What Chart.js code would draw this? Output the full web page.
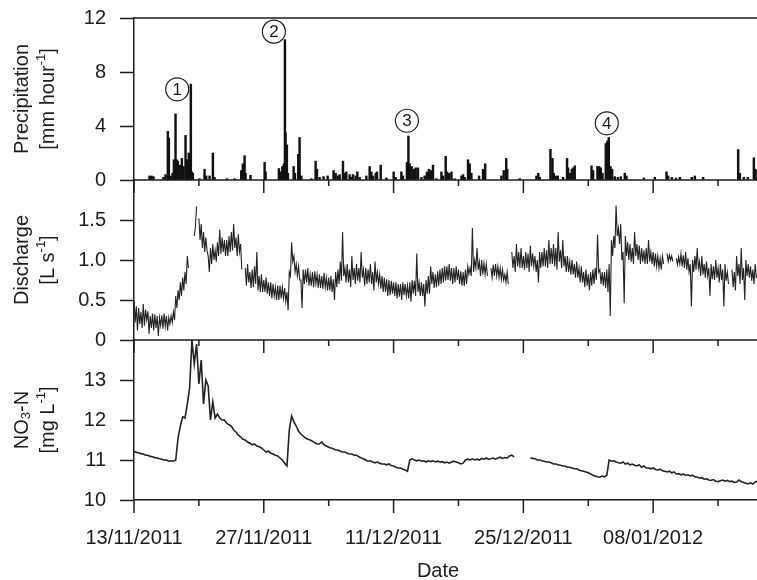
<!DOCTYPE html>
<html><head><meta charset="utf-8">
<script src="https://cdn.jsdelivr.net/npm/chart.js@4.4.1/dist/chart.umd.min.js"></script>
<style>html,body{margin:0;padding:0;background:#fff;}#wrap{width:757px;height:580px;}</style>
</head><body><div id="wrap"><canvas id="c" width="757" height="580"></canvas></div>
<script>
// ---- data (x in days since 13/11/2011) ----
const START_DATE = Date.UTC(2011, 10, 13);
const X_MAX = 67.2;
const DISCHARGE_STEP = 0.125; // days between discharge samples
const NITRATE_STEP = 0.25;    // days between nitrate samples

const precipDays = [1.67,1.89,2.10,3.18,3.40,3.65,3.76,3.94,4.16,4.30,
4.48,4.59,4.73,4.99,5.16,5.34,5.56,5.70,5.91,6.13,
6.24,6.35,7.07,7.61,7.79,8.15,8.51,8.69,10.02,10.85,
11.57,11.74,11.93,12.03,12.57,14.09,14.19,15.63,15.81,16.00,
16.17,16.28,16.35,16.49,16.60,17.22,17.36,17.72,17.86,18.05,
19.13,19.59,19.73,20.02,20.45,20.89,21.53,21.75,22.00,22.18,
22.54,22.72,22.90,23.26,23.44,23.62,23.91,24.09,24.34,25.06,
25.42,25.60,25.77,26.07,26.21,26.61,27.22,28.01,28.22,28.84,
29.01,29.44,29.60,29.74,29.95,30.17,30.38,30.63,31.00,31.35,
31.60,31.82,32.03,32.25,32.62,33.16,33.33,33.62,33.76,33.98,
34.24,34.59,35.32,35.49,35.67,36.03,36.21,36.39,37.22,37.65,
37.88,39.63,39.88,40.15,40.26,41.61,43.41,43.61,43.77,44.92,
45.14,45.28,45.49,45.71,46.28,46.71,46.82,47.00,47.22,47.36,
47.54,49.35,49.52,49.99,50.17,50.35,50.53,50.89,51.07,51.21,
51.40,51.57,51.86,52.19,52.51,52.94,53.12,54.99,56.18,57.44,
57.61,58.01,58.45,58.88,60.17,60.50,61.39,65.17,65.35,65.78,
66.21,66.86,67.05];
const precipValues = [0.3,0.3,0.25,0.2,0.4,3.6,3.1,0.3,0.5,1.5,
4.9,1.5,1.4,1.1,1.6,1.0,3.3,1.5,2.0,7.1,
0.6,0.5,0.1,0.8,0.3,0.3,2.0,0.2,0.1,0.1,
0.7,1.2,1.8,0.5,0.35,1.3,0.6,0.85,0.6,1.0,
1.2,10.4,3.5,2.6,0.5,1.0,0.5,1.9,3.15,0.3,
0.1,1.4,0.8,0.2,0.25,0.3,0.7,0.5,0.3,0.4,
1.4,0.5,0.6,0.4,0.2,0.4,0.3,0.6,0.2,0.3,
1.0,0.6,0.3,0.5,0.6,1.1,0.15,0.6,0.2,0.6,
0.3,1.3,3.26,1.2,1.0,0.8,0.9,0.9,0.2,0.3,
0.6,0.8,0.7,1.1,0.1,0.6,0.3,1.75,0.6,0.5,
0.6,0.1,0.3,0.4,0.2,1.5,1.2,0.5,0.3,0.8,
1.2,0.3,0.7,1.6,0.8,0.1,0.3,0.5,0.2,2.27,
1.6,0.5,0.3,0.3,0.2,1.6,0.9,0.5,0.8,0.9,
1.05,1.05,0.7,1.0,1.0,0.9,0.5,2.7,2.9,3.15,
1.0,0.8,0.25,0.2,0.25,0.5,0.3,0.15,0.2,0.6,
0.3,0.2,0.15,0.2,0.2,0.3,0.2,2.25,0.5,0.2,
0.2,1.65,0.8];

// discharge, 8 samples per day (row = one day)
const dischargeValues = [
0.50,0.22,0.42,0.12,0.40,0.20,0.35,0.15, // d0
0.45,0.18,0.38,0.25,0.36,0.08,0.30,0.15, // d1
0.33,0.12,0.32,0.15,0.30,0.05,0.28,0.18, // d2
0.31,0.14,0.33,0.17,0.30,0.12,0.28,0.20, // d3
0.30,0.22,0.35,0.25,0.55,0.40,0.62,0.50, // d4
0.72,0.55,0.78,0.62,0.85,0.70,1.05,0.90, // d5
null,null,null,null,1.30,1.42,1.67,null, // d6
1.52,1.25,1.45,1.15,1.35,1.10,1.28,1.12, // d7
1.05,0.85,1.15,0.95,1.20,1.00,1.12,0.98, // d8
1.22,1.05,1.38,1.08,1.28,1.10,1.25,1.05, // d9
1.25,1.05,1.30,1.10,1.35,1.12,1.45,1.15, // d10
1.28,1.05,1.32,1.10,1.20,0.88,null,null, // d11
0.90,0.68,0.95,0.72,0.85,0.65,0.88,0.66, // d12
0.92,0.70,1.10,0.62,0.80,0.60,0.82,0.60, // d13
0.75,0.60,0.78,0.58,0.72,0.55,0.72,0.52, // d14
0.70,0.55,0.66,0.50,0.68,0.50,0.68,0.52, // d15
0.66,0.52,0.65,0.48,0.60,0.37,0.85,0.80, // d16
1.22,0.98,1.05,0.85,0.95,0.80,0.92,0.75, // d17
0.75,0.40,0.88,0.70,0.88,0.72,0.90,0.68, // d18
0.82,0.68,0.85,0.66,0.86,0.70,0.82,0.65, // d19
0.82,0.65,0.80,0.64,0.84,0.66,0.78,0.62, // d20
0.78,0.62,0.80,0.60,0.76,0.50,0.85,0.66, // d21
0.88,0.70,0.98,0.74,1.35,0.80,0.90,0.72, // d22
0.95,0.72,0.88,0.66,1.05,0.75,0.90,0.70, // d23
0.95,0.74,0.90,0.72,1.10,0.78,0.88,0.68, // d24
0.90,0.70,0.88,0.72,0.95,0.70,0.85,0.62, // d25
0.98,0.72,0.85,0.70,0.82,0.64,0.80,0.60, // d26
0.78,0.60,0.76,0.55,0.75,0.56,0.74,0.58, // d27
0.72,0.55,0.72,0.52,0.70,0.54,0.70,0.50, // d28
0.72,0.56,0.70,0.55,0.68,0.52,0.72,0.48, // d29
0.75,0.58,0.74,0.55,1.08,0.60,0.72,0.55, // d30
0.72,0.55,0.70,0.42,0.75,0.58,0.80,0.58, // d31
0.92,0.70,0.85,0.65,0.82,0.66,0.86,0.68, // d32
0.88,0.70,0.90,0.72,0.92,0.74,0.92,0.75, // d33
0.95,0.74,0.90,0.70,0.90,0.72,0.92,0.75, // d34
0.88,0.70,0.86,0.68,0.85,0.68,0.88,0.70, // d35
0.92,0.82,0.90,0.80,1.40,0.85,1.00,0.90, // d36
1.15,0.88,0.98,0.80,1.00,0.82,0.96,0.82, // d37
0.95,0.80,null,null,0.90,0.78,0.94,0.80, // d38
0.95,0.80,0.92,0.78,0.90,0.76,0.88,0.75, // d39
0.82,0.72,0.85,0.70,null,null,1.10,0.90, // d40
1.05,0.85,1.20,0.92,1.10,0.90,1.15,0.90, // d41
1.05,0.88,1.10,0.90,1.08,0.85,1.18,0.92, // d42
1.08,0.92,1.05,0.85,1.00,0.72,1.10,0.90, // d43
1.10,0.92,1.15,0.92,1.12,0.90,1.25,0.95, // d44
1.15,0.95,1.20,0.92,1.15,0.88,1.35,0.98, // d45
1.12,0.90,1.25,0.92,1.05,0.85,1.05,0.85, // d46
0.98,0.82,1.00,0.82,0.95,0.78,0.98,0.78, // d47
0.90,0.72,0.92,0.72,0.85,0.66,0.88,0.68, // d48
0.82,0.62,0.85,0.68,0.88,0.70,0.90,0.75, // d49
1.32,0.85,0.88,0.70,0.85,0.68,0.85,0.65, // d50
0.88,0.60,0.95,0.30,1.25,1.05,1.30,1.15, // d51
1.68,1.30,1.40,1.20,1.45,1.00,1.10,0.46, // d52
1.30,1.05,1.22,1.00,1.20,0.98,1.15,0.95, // d53
1.35,1.05,1.20,1.00,1.18,0.95,1.15,0.98, // d54
1.12,0.95,1.15,0.95,1.25,0.98,1.10,0.95, // d55
1.10,0.92,1.08,0.92,1.05,0.90,1.02,0.88, // d56
1.05,0.95,null,null,1.08,0.98,1.06,1.00, // d57
1.05,0.98,null,null,1.02,0.94,1.04,0.95, // d58
1.08,0.92,1.06,0.90,1.10,0.88,1.02,0.85, // d59
0.95,0.42,1.00,0.85,1.05,0.88,1.15,0.90, // d60
0.98,0.80,1.05,0.82,0.95,0.78,0.98,0.80, // d61
0.90,0.55,0.95,0.76,0.92,0.75,1.00,0.78, // d62
0.90,0.72,0.95,0.75,0.88,0.42,0.95,0.74, // d63
0.85,0.70,null,null,0.88,0.66,0.85,0.62, // d64
1.05,0.80,0.95,0.70,1.15,0.75,0.90,0.50, // d65
1.00,0.80,0.95,0.78,0.92,0.74,0.88,0.70, // d66
0.95,0.78,0.80                           // d67
];

// nitrate NO3-N, 4 samples per day (row = one day)
const nitrateValues = [
11.22,11.19,11.18,11.16, 11.15,11.12,11.12,11.09, 11.08,11.06,11.05,11.03, 11.02,11.00,11.00,10.97, // d0-3
10.98,10.97,11.00,11.55, 11.85,12.08,12.05,12.40, 12.80,14.00,13.40,13.90, 12.90,13.50,12.40,13.00, // d4-7
12.85,12.00,12.45,12.05, 12.15,12.05,12.00,12.00, 11.92,11.88,11.85,11.75, 11.70,11.62,11.58,11.52, // d8-11
11.50,11.45,11.42,11.38, 11.40,11.35,11.33,11.30, 11.25,11.20,11.22,11.17, 11.15,11.12,11.10,11.05, // d12-15
11.00,10.92,10.85,11.75, 12.10,11.95,11.85,11.72, 11.65,11.60,11.55,11.52, 11.50,11.47,11.43,11.40, // d16-19
11.40,11.45,11.38,11.35, 11.32,11.30,11.28,11.25, 11.25,11.22,11.20,11.20, 11.17,11.15,11.15,11.12, // d20-23
11.12,11.08,11.05,11.03, 11.00,10.97,10.98,10.95, 10.93,10.95,10.92,10.90, 10.90,10.88,10.90,10.86, // d24-27
10.85,10.82,10.80,10.80, 10.77,10.75,10.72,11.00, 11.03,11.00,10.98,11.00, 10.97,10.98,10.95,10.98, // d28-31
10.96,10.98,10.95,10.97, 10.95,10.96,10.93,10.95, 10.92,10.95,10.97,10.95, 10.93,10.90,10.92,11.00, // d32-35
11.02,11.00,11.03,11.00, 11.02,11.00,11.04,11.02, 11.05,11.02,11.03,11.05, 11.02,11.05,11.07,11.04, // d36-39
11.06,11.05,11.10,11.12, 11.08,null,null,null, null,null,null,11.05, 11.04,11.03,11.00,11.00, // d40-43
10.98,10.97,10.95,10.95, 10.93,10.90,10.90,10.88, 10.87,10.85,10.85,10.82, 10.82,10.80,10.78,10.78, // d44-47
10.75,10.73,10.72,10.70, 10.68,10.65,10.62,10.60, 10.58,10.57,10.60,10.58, 10.62,11.00,10.97,10.98, // d48-51
10.95,10.93,10.92,10.95, 10.90,10.92,10.88,10.90, 10.87,10.85,10.88,10.82, 10.85,10.80,10.80,10.78, // d52-55
10.80,10.76,10.75,10.77, 10.73,10.72,10.70,10.72, 10.68,10.70,10.65,10.66, 10.63,10.65,10.62,10.63, // d56-59
10.60,10.62,10.58,10.57, 10.55,10.56,10.52,10.53, 10.50,10.49,10.51,10.47, 10.46,10.48,10.50,10.47, // d60-63
10.49,10.46,10.47,10.44, 10.45,10.50,10.46,10.44, 10.42,10.40,10.43,10.40, 10.45,10.47              // d64-67
];

const majorTickDays = [0, 14, 28, 42, 56];
const minorTickDays = [7, 21, 35, 49, 63];
const precipTicks = [0, 4, 8, 12];
const dischargeTicks = [0, 0.5, 1, 1.5];
const nitrateTicks = [10, 11, 12, 13];
const eventLabels = ['1', '2', '3', '4'];
const eventDays = [4.66, 15.09, 29.44, 51.0];
const eventValues = [6.72, 10.99, 4.39, 4.2];

// ---- rendering ----
const FONT = '"Liberation Sans", Arial, Helvetica, sans-serif';
const INK = '#1c1c1c';

function fmtDate(d) {
  const dt = new Date(START_DATE + Math.round(d * 86400000));
  return String(dt.getUTCDate()).padStart(2, '0') + '/' +
         String(dt.getUTCMonth() + 1).padStart(2, '0') + '/' + dt.getUTCFullYear();
}
const series = (vals, step) => vals.map((v, i) => ({ x: i * step, y: v }));

function yAxis(min, max, ticks, weight, fmt) {
  return {
    type: 'linear', position: 'left', stack: 'panels', stackWeight: weight,
    min: min, max: max,
    afterBuildTicks: s => { s.ticks = ticks.map(v => ({ value: v })); },
    afterFit: s => { s.width = 134; s.paddingTop = 0; s.paddingBottom = 0; },
    ticks: { font: { family: FONT, size: 20 }, color: INK, padding: 14, callback: fmt },
    grid: { display: true, drawOnChartArea: false, drawTicks: true, tickLength: 14, tickColor: INK, tickWidth: 1.5 },
    border: { display: true, color: INK, width: 1.5 }
  };
}

function drawRich(ctx, parts, cx, cy) {
  let total = 0;
  parts.forEach(p => { ctx.font = (p.s || 20) + 'px ' + FONT; p.w = ctx.measureText(p.t).width; total += p.w; });
  let xx = cx - total / 2;
  parts.forEach(p => { ctx.font = (p.s || 20) + 'px ' + FONT; ctx.fillText(p.t, xx, cy + (p.dy || 0)); xx += p.w; });
}

const decor = {
  id: 'decor',
  afterDatasetsDraw(chart) {
    const { ctx, chartArea: a, scales } = chart;
    const x = scales.x, yP = scales.yP, yQ = scales.yQ;
    ctx.save();
    ctx.strokeStyle = INK; ctx.lineWidth = 1.5;
    [yP.top, yP.bottom, yQ.bottom].forEach(y => {
      ctx.beginPath(); ctx.moveTo(a.left, y); ctx.lineTo(a.right, y); ctx.stroke();
    });
    const seg = (px, y, len) => { ctx.beginPath(); ctx.moveTo(px, y); ctx.lineTo(px, y + len); ctx.stroke(); };
    [yP.bottom, yQ.bottom, x.top].forEach(y => {
      majorTickDays.forEach(d => seg(x.getPixelForValue(d), y, 13));
      minorTickDays.forEach(d => seg(x.getPixelForValue(d), y, 6));
    });
    // circled event markers
    ctx.lineWidth = 1.2;
    ctx.textAlign = 'center'; ctx.textBaseline = 'middle';
    ctx.font = '17px ' + FONT;
    eventLabels.forEach((t, i) => {
      const px = x.getPixelForValue(eventDays[i]), py = yP.getPixelForValue(eventValues[i]);
      ctx.fillStyle = '#fff';
      ctx.beginPath(); ctx.arc(px, py, 11.5, 0, Math.PI * 2); ctx.fill(); ctx.stroke();
      ctx.fillStyle = INK; ctx.fillText(t, px, py + 1);
    });
    ctx.restore();
  },
  afterDraw(chart) {
    const { ctx, scales } = chart;
    ctx.save();
    ctx.fillStyle = INK; ctx.textAlign = 'left'; ctx.textBaseline = 'middle';
    const titles = [
      [scales.yP, [{ t: 'Precipitation' }], [{ t: '[mm hour' }, { t: '-1', s: 13, dy: -7 }, { t: ']' }]],
      [scales.yQ, [{ t: 'Discharge' }], [{ t: '[L s' }, { t: '-1', s: 13, dy: -7 }, { t: ']' }]],
      [scales.yN, [{ t: 'NO' }, { t: '3', s: 13, dy: 4 }, { t: '-N' }], [{ t: '[mg L' }, { t: '-1', s: 13, dy: -7 }, { t: ']' }]]
    ];
    titles.forEach(([sc, l1, l2]) => {
      const cy = (sc.top + sc.bottom) / 2;
      ctx.save();
      ctx.translate(0, cy);
      ctx.rotate(-Math.PI / 2);
      drawRich(ctx, l1, 0, 22);
      drawRich(ctx, l2, 0, 48);
      ctx.restore();
    });
    ctx.textAlign = 'center';
    ctx.font = '20px ' + FONT;
    ctx.fillText('Date', 438, 571);
    ctx.restore();
  }
};

new Chart(document.getElementById('c'), {
  type: 'line',
  data: {
    datasets: [
      { type: 'bar', label: 'Precipitation', yAxisID: 'yP', xAxisID: 'x',
        data: precipDays.map((d, i) => ({ x: d, y: precipValues[i] })),
        backgroundColor: '#111', borderWidth: 0, barThickness: 1.8 },
      { type: 'line', label: 'Discharge', yAxisID: 'yQ', xAxisID: 'x',
        data: series(dischargeValues, DISCHARGE_STEP), borderColor: '#222', borderWidth: 1.1,
        pointRadius: 0, tension: 0, spanGaps: false },
      { type: 'line', label: 'NO3-N', yAxisID: 'yN', xAxisID: 'x',
        data: series(nitrateValues, NITRATE_STEP), borderColor: '#222', borderWidth: 1.6,
        pointRadius: 0, tension: 0, spanGaps: false }
    ]
  },
  options: {
    responsive: false, animation: false,
    layout: { padding: { top: 18, right: 0, bottom: 0, left: 0 } },
    plugins: { legend: { display: false }, tooltip: { enabled: false } },
    scales: {
      x: {
        type: 'linear', position: 'bottom', min: 0, max: X_MAX, offset: false,
        afterBuildTicks: s => { s.ticks = majorTickDays.map(v => ({ value: v })); },
        afterFit: s => { s.height = 80; s.paddingLeft = 0; s.paddingRight = 0; },
        ticks: { font: { family: FONT, size: 20 }, color: INK, padding: 26, maxRotation: 0, autoSkip: false,
                 callback: v => fmtDate(v) },
        grid: { display: false, drawTicks: false },
        border: { display: true, color: INK, width: 1.5 }
      },
      // left stacked axes are laid out bottom-up in definition order
      yN: yAxis(10, 14, nitrateTicks, 160, v => String(v)),
      yQ: yAxis(0, 2, dischargeTicks, 160, v => (v === 0 ? '0' : v.toFixed(1))),
      yP: yAxis(0, 12, precipTicks, 162, v => String(v))
    }
  },
  plugins: [decor]
});
</script></body></html>
